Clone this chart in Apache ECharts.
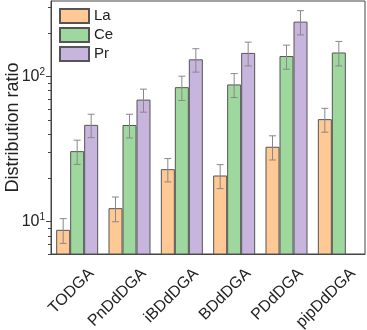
<!DOCTYPE html>
<html>
<head>
<meta charset="utf-8">
<script src="https://cdn.jsdelivr.net/npm/echarts@6/dist/echarts.min.js"></script>
<style>
html, body { margin: 0; padding: 0; background: #fff; }
#chart { width: 367px; height: 330px; }
</style>
</head>
<body>
<div id="chart"></div>
<script>
var categories = ['TODGA', 'PnDdDGA', 'iBDdDGA', 'BDdDGA', 'PDdDGA', 'pipDdDGA'];
var seriesNames = ['La', 'Ce', 'Pr'];
var laValues = [8.8, 12.4, 23.0, 20.8, 32.8, 50.8];
var ceValues = [30.6, 46.3, 84.3, 88.0, 138, 146];
var prValues = [46.4, 69.2, 131, 145, 238, null];
var laErrors = [1.7, 2.4, 4.2, 3.9, 6.2, 9.5];
var ceErrors = [5.8, 8.6, 16, 16.5, 26, 28];
var prErrors = [8.5, 12.5, 24, 27, 45, null];
var majorTicks = [10, 100];
var minorTicks = [6, 7, 8, 9, 20, 30, 40, 50, 60, 70, 80, 90, 200, 300];

var colors = ['#fec994', '#9fd89f', '#c7b5de'];
var BAR_W = 14;
var font = 'Liberation Sans, Arial, sans-serif';

var values = [laValues, ceValues, prValues];
var errors = [laErrors, ceErrors, prErrors];

var series = [];
seriesNames.forEach(function (name, i) {
    series.push({
        name: name,
        type: 'bar',
        barWidth: BAR_W,
        barGap: '0%',
        itemStyle: { color: colors[i], borderColor: '#555', borderWidth: 1 },
        data: values[i]
    });
});
// error bars, shifted to sit on the matching bar
seriesNames.forEach(function (name, i) {
    var d = [];
    values[i].forEach(function (v, j) {
        if (v != null) d.push([j, v, errors[i][j]]);
    });
    series.push({
        type: 'custom',
        silent: true,
        z: 5,
        data: d,
        renderItem: function (params, api) {
            var x = api.value(0), v = api.value(1), e = api.value(2);
            var off = (i - 1) * BAR_W;
            var hi = api.coord([x, v + e]);
            var lo = api.coord([x, v - e]);
            var cx = hi[0] + off;
            var cap = 3.5;
            var st = { stroke: '#888', lineWidth: 1 };
            return {
                type: 'group',
                children: [
                    { type: 'line', shape: { x1: cx, y1: hi[1], x2: cx, y2: lo[1] }, style: st },
                    { type: 'line', shape: { x1: cx - cap, y1: hi[1], x2: cx + cap, y2: hi[1] }, style: st },
                    { type: 'line', shape: { x1: cx - cap, y1: lo[1], x2: cx + cap, y2: lo[1] }, style: st }
                ]
            };
        }
    });
});
// minor log ticks on the y axis
series.push({
    type: 'custom',
    silent: true,
    clip: false,
    z: 10,
    data: minorTicks.map(function (v) { return [0, v]; }),
    renderItem: function (params, api) {
        var p = api.coord([api.value(0), api.value(1)]);
        var x0 = params.coordSys.x;
        var y = Math.round(p[1]) + 0.5;
        return {
            type: 'line',
            shape: { x1: x0 - 3, y1: y, x2: x0, y2: y },
            style: { stroke: '#444', lineWidth: 1 }
        };
    }
});

var option = {
    animation: false,
    textStyle: { fontFamily: font },
    grid: {
        left: 51, right: 2, top: 1, bottom: 76,
        outerBoundsMode: 'none',
        show: true, borderColor: '#444', borderWidth: 1
    },
    legend: {
        data: seriesNames,
        orient: 'vertical',
        left: 54,
        top: 3,
        itemWidth: 29,
        itemHeight: 14,
        itemGap: 3,
        icon: 'rect',
        textStyle: { fontSize: 15, color: '#222', fontFamily: font }
    },
    xAxis: {
        type: 'category',
        data: categories,
        axisLine: { lineStyle: { color: '#444' } },
        axisTick: { alignWithLabel: true, length: 5, lineStyle: { color: '#444' } },
        axisLabel: {
            rotate: 45, fontSize: 16, color: '#222', margin: 3, interval: 0,
            verticalAlign: 'top', padding: [12, 0, 0, 0]
        }
    },
    yAxis: {
        type: 'log',
        min: 6,
        max: 330,
        name: 'Distribution ratio',
        nameLocation: 'middle',
        nameGap: 29,
        nameMoveOverlap: false,
        nameTextStyle: { fontSize: 18, color: '#222' },
        splitLine: { show: false },
        axisLine: { show: true, lineStyle: { color: '#444' } },
        axisTick: { show: true, length: 5, customValues: majorTicks, lineStyle: { color: '#444' } },
        axisLabel: {
            customValues: majorTicks,
            fontSize: 16,
            color: '#222',
            margin: 6,
            formatter: function (v) {
                return '10{sup|' + Math.round(Math.log10(v)) + '}';
            },
            rich: { sup: { fontSize: 10, verticalAlign: 'top', padding: [0, 0, 9, 0], color: '#222' } }
        }
    },
    series: series
};

var myChart = echarts.init(document.getElementById('chart'));
myChart.setOption(option);
</script>
</body>
</html>
